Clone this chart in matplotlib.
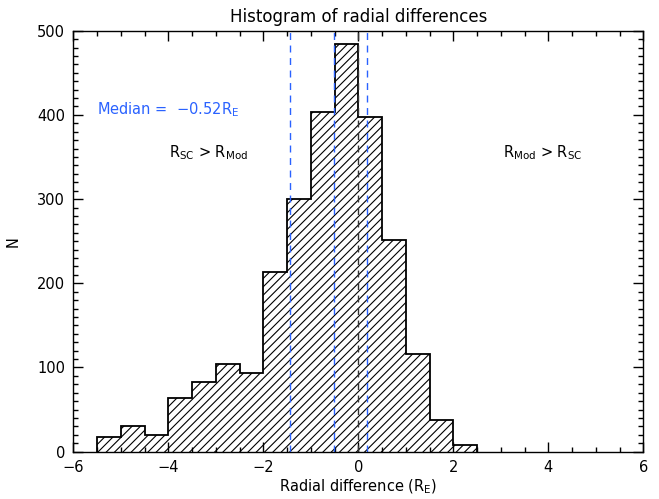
import matplotlib
matplotlib.use("Agg")
import matplotlib.pyplot as plt
from matplotlib.ticker import MultipleLocator

# bin edges (width 0.5) and counts
bin_left = [-5.5, -5.0, -4.5, -4.0, -3.5, -3.0, -2.5, -2.0,
            -1.5, -1.0, -0.5, 0.0, 0.5, 1.0, 1.5, 2.0]
counts = [18, 30, 20, 64, 83, 104, 93, 213,
          300, 404, 484, 397, 252, 116, 38, 8]
bin_width = 0.5

median = -0.52
quartiles = [-1.43, 0.18]

BLUE = "#2a62ff"

plt.rcParams["font.family"] = ["DejaVu Sans"]
plt.rcParams["hatch.linewidth"] = 0.8

fig = plt.figure(figsize=(6.59, 4.99), dpi=100)
ax = fig.add_axes([0.1112, 0.0948, 0.8650, 0.8437])

edges = bin_left + [bin_left[-1] + bin_width]
# hatched fill, then the step outline on top
ax.stairs(counts, edges, fill=True, facecolor="white", edgecolor="black",
          hatch="////", linewidth=0)
ax.stairs(counts, edges, color="black", linewidth=1.3, baseline=0)

# reference lines
ax.axvline(0.0, color="#333333", linestyle=(0, (5, 4)), linewidth=1.0)
ax.axvline(median, color=BLUE, linestyle=(0, (5, 4)), linewidth=1.0)
for q in quartiles:
    ax.axvline(q, color=BLUE, linestyle=(0, (5, 4)), linewidth=1.0)

ax.set_xlim(-6, 6)
ax.set_ylim(0, 500)
ax.xaxis.set_major_locator(MultipleLocator(2))
ax.xaxis.set_minor_locator(MultipleLocator(0.5))
ax.yaxis.set_major_locator(MultipleLocator(100))
ax.yaxis.set_minor_locator(MultipleLocator(10))
ax.tick_params(which="both", direction="in", top=True, right=True,
               labelsize=10.5, pad=6)
ax.tick_params(which="major", length=7.2, width=1.0)
ax.tick_params(which="minor", length=3.6, width=1.0)
for s in ax.spines.values():
    s.set_linewidth(1.0)

ax.set_title("Histogram of radial differences", fontsize=12, pad=6)
ax.set_xlabel(r"Radial difference (R$_{\rm E}$)", fontsize=10.5, labelpad=2)
ax.set_ylabel("N", fontsize=10.5, labelpad=12)

ax.text(-5.5, 406, r"Median =  $-$0.52R$_{\rm E}$", color=BLUE,
        fontsize=10.5, va="center", ha="left")
ax.text(-3.98, 350, r"R$_{\rm SC}$ > R$_{\rm Mod}$", fontsize=10.5,
        va="baseline", ha="left")
ax.text(3.04, 350, r"R$_{\rm Mod}$ > R$_{\rm SC}$", fontsize=10.5,
        va="baseline", ha="left")

fig.savefig("out.png", dpi=100)
